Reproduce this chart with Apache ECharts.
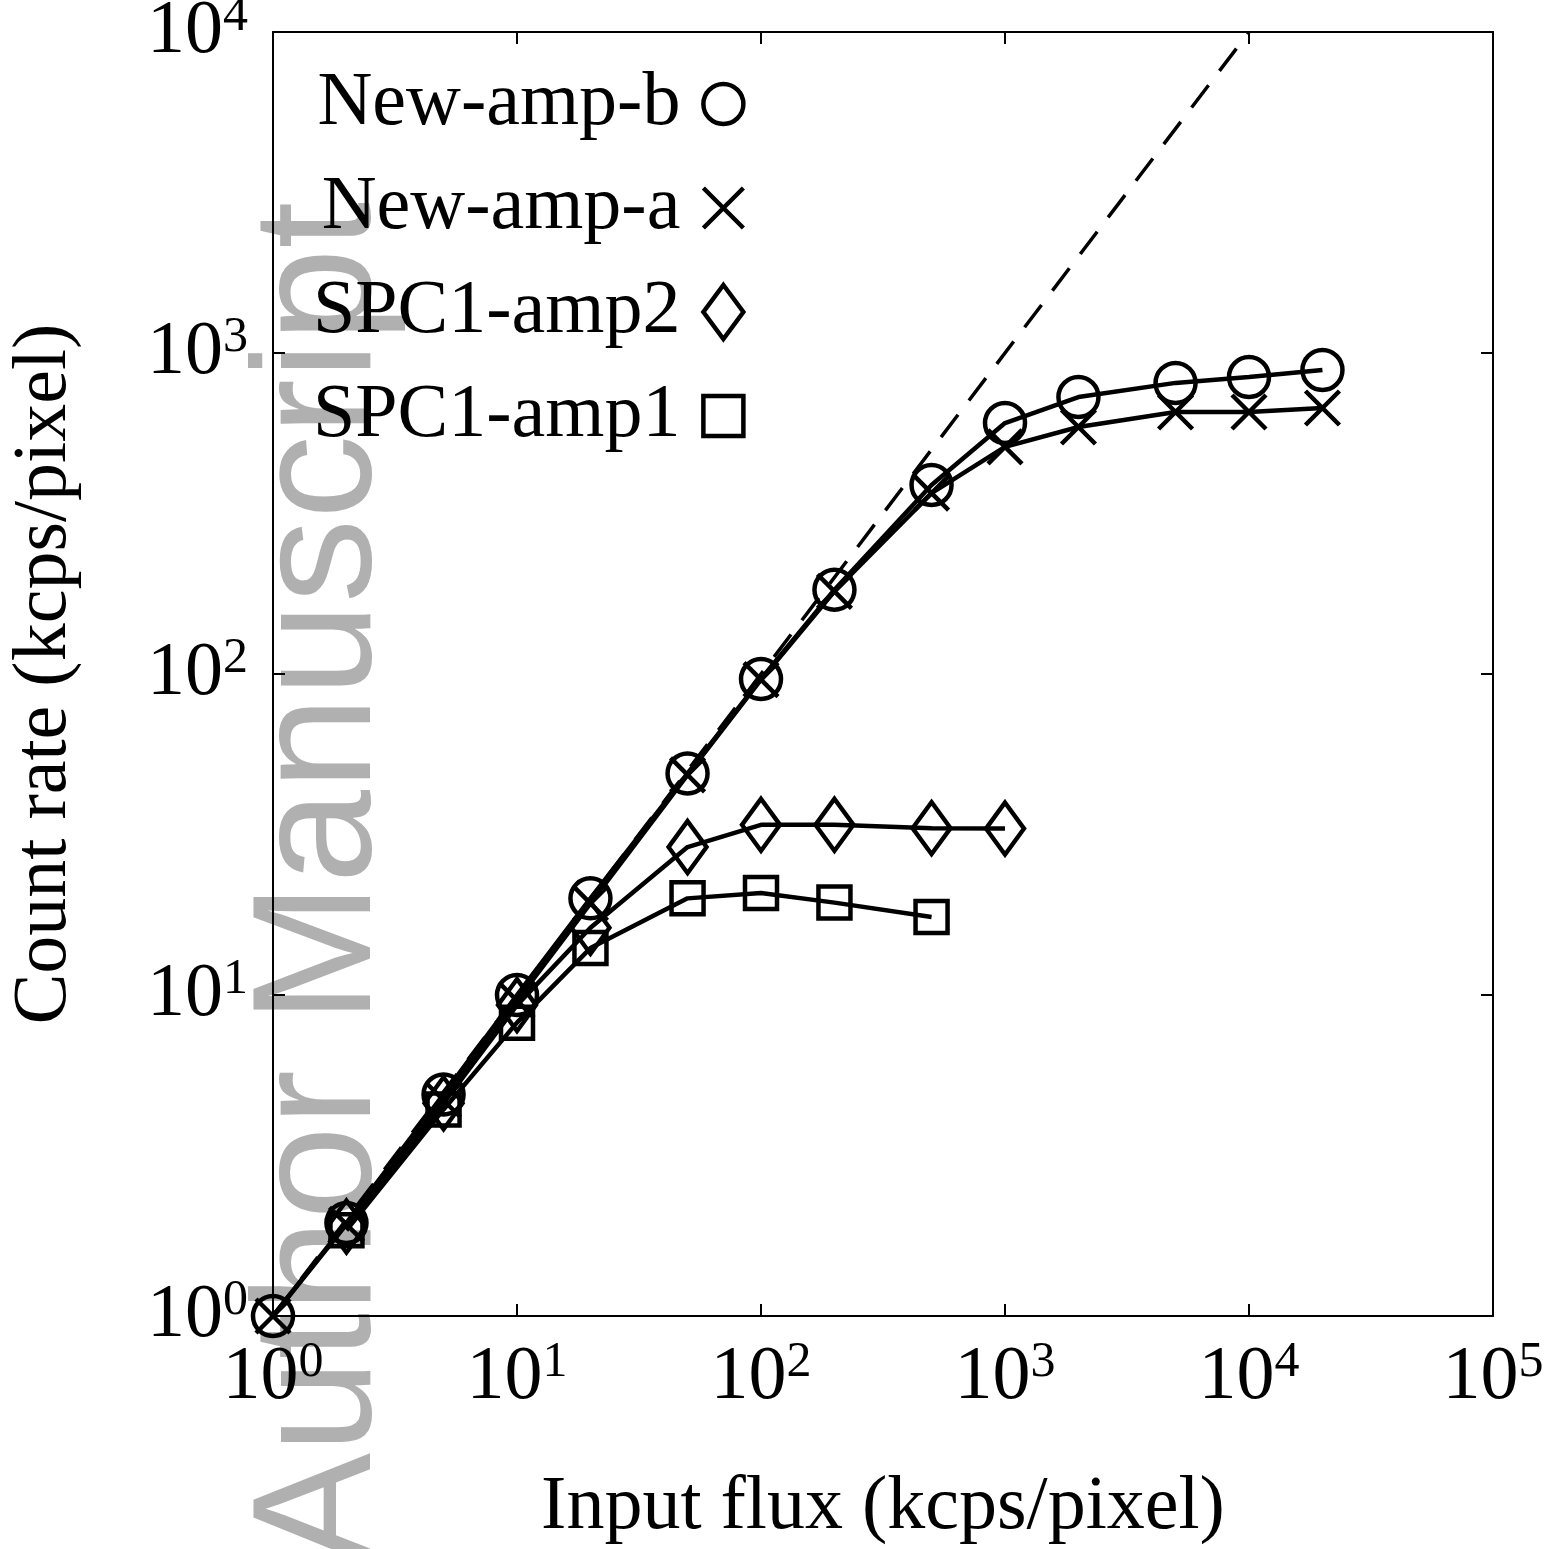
<!DOCTYPE html>
<html><head><meta charset="utf-8">
<script src="https://cdn.jsdelivr.net/npm/echarts@6/dist/echarts.min.js"></script>
<style>html,body{margin:0;padding:0;background:#fff}#c{width:1562px;height:1549px}</style>
</head><body><div id="c"></div>
<script>
// ---- data ----
const fluxNew  = [1, 2, 5, 10, 20, 50, 100, 200, 500, 1000, 2000, 5000, 10000, 20000];
const newAmpB  = [1, 1.95, 4.9, 10, 20, 49, 96.5, 183, 388, 605, 729, 807, 842, 885];
const newAmpA  = [1, 1.93, 4.7, 9.6, 19.3, 48.5, 96, 181, 366, 510, 588, 655, 655, 674];
const fluxSpc2 = [2, 5, 10, 20, 50, 100, 200, 500, 1000];
const spc1Amp2 = [1.9, 4.6, 9.3, 16.2, 28.9, 33.9, 33.9, 33.1, 33.0];
const fluxSpc1 = [2, 5, 10, 20, 50, 100, 200, 500];
const spc1Amp1 = [1.85, 4.4, 8.2, 14.0, 20.0, 20.8, 19.4, 17.5];
const refX = [1, 10000];
const refY = [1, 10000];
const seriesNames = ['New-amp-b', 'New-amp-a', 'SPC1-amp2', 'SPC1-amp1'];
const xAxisTitle = 'Input flux (kcps/pixel)';
const yAxisTitle = 'Count rate (kcps/pixel)';
const watermark = 'Author Manuscript';

const pairs = (xs, ys) => xs.map((x, i) => [x, ys[i]]);
const SERIF = '"Liberation Serif", "Times New Roman", serif';
const X_PATH = 'path://M0,0L20,20M20,0L0,20';
const SQ_PATH = 'path://M0,0H20V20H0Z';

const tickFmt = v => '{b|10}{s|' + Math.round(Math.log10(v)) + '}';
const richLbl = {
  b: { fontFamily: SERIF, fontSize: 76, color: '#000', lineHeight: 80 },
  s: { fontFamily: SERIF, fontSize: 50, color: '#000', lineHeight: 80, verticalAlign: 'top' }
};
const axisLineStyle = { color: '#000', width: 2 };
const hollow = { color: 'rgba(0,0,0,0)', borderColor: '#000', borderWidth: 4.5 };

const mk = (name, data, symbol, size) => ({
  name, type: 'line', data, symbol, symbolSize: size, z: 3,
  lineStyle: { color: '#000', width: 4.5 },
  itemStyle: hollow,
  emphasis: { disabled: true }, animation: false
});

const chart = echarts.init(document.getElementById('c'), null, { renderer: 'canvas' });
chart.setOption({
  backgroundColor: '#fff',
  animation: false,
  grid: { left: 273, top: 32, width: 1220, height: 1284, containLabel: false, outerBoundsMode: 'none' },
  xAxis: [{
    type: 'log', logBase: 10, min: 1, max: 100000, position: 'bottom',
    name: xAxisTitle, nameLocation: 'middle', nameGap: 154,
    nameTextStyle: { fontFamily: SERIF, fontSize: 76, color: '#000' },
    axisLine: { show: true, lineStyle: axisLineStyle },
    axisTick: { show: true, inside: true, length: 12, lineStyle: axisLineStyle },
    minorTick: { show: false }, splitLine: { show: false },
    axisLabel: { formatter: tickFmt, rich: richLbl, margin: 22 }
  }, {
    type: 'log', logBase: 10, min: 1, max: 100000, position: 'top',
    axisLine: { show: true, lineStyle: axisLineStyle },
    axisTick: { show: true, inside: true, length: 12, lineStyle: axisLineStyle },
    splitLine: { show: false }, axisLabel: { show: false }
  }],
  yAxis: [{
    type: 'log', logBase: 10, min: 1, max: 10000, position: 'left',
    name: yAxisTitle, nameLocation: 'middle', nameGap: 190, nameRotate: 90,
    nameTextStyle: { fontFamily: SERIF, fontSize: 76, color: '#000' },
    axisLine: { show: true, lineStyle: axisLineStyle },
    axisTick: { show: true, inside: true, length: 12, lineStyle: axisLineStyle },
    minorTick: { show: false }, splitLine: { show: false },
    axisLabel: { formatter: tickFmt, rich: richLbl, margin: 25 }
  }, {
    type: 'log', logBase: 10, min: 1, max: 10000, position: 'right',
    axisLine: { show: true, lineStyle: axisLineStyle },
    axisTick: { show: true, inside: true, length: 12, lineStyle: axisLineStyle },
    splitLine: { show: false }, axisLabel: { show: false }
  }],
  legend: {
    left: 308, top: 60, orient: 'vertical', align: 'right',
    itemWidth: 40, itemHeight: 54, itemGap: 26,
    textStyle: { fontFamily: SERIF, fontSize: 76, color: '#000', lineHeight: 78, padding: [0, 18, 0, 0] },
    itemStyle: hollow,
    selectedMode: false,
    data: [
      { name: seriesNames[0], icon: 'circle', itemStyle: hollow },
      { name: seriesNames[1], icon: X_PATH, itemStyle: hollow },
      { name: seriesNames[2], icon: 'diamond', itemStyle: hollow },
      { name: seriesNames[3], icon: SQ_PATH, itemStyle: hollow }
    ]
  },
  graphic: [{
    type: 'text', x: 324, y: 1565, rotation: Math.PI / 2, z: -10, silent: true,
    style: { text: watermark, font: '168px "Liberation Sans", Arial, sans-serif', fill: '#b0b0b0', align: 'left', verticalAlign: 'middle' }
  }],
  series: [
    {
      name: 'y=x', type: 'line', data: pairs(refX, refY), symbol: 'none', z: 2,
      lineStyle: { color: '#000', width: 3.5, type: [28, 18] }, emphasis: { disabled: true }, animation: false
    },
    mk(seriesNames[0], pairs(fluxNew, newAmpB), 'circle', 40),
    mk(seriesNames[1], pairs(fluxNew, newAmpA), X_PATH, 34),
    mk(seriesNames[2], pairs(fluxSpc2, spc1Amp2), 'diamond', [38, 52]),
    mk(seriesNames[3], pairs(fluxSpc1, spc1Amp1), SQ_PATH, 32)
  ]
});
</script></body></html>
